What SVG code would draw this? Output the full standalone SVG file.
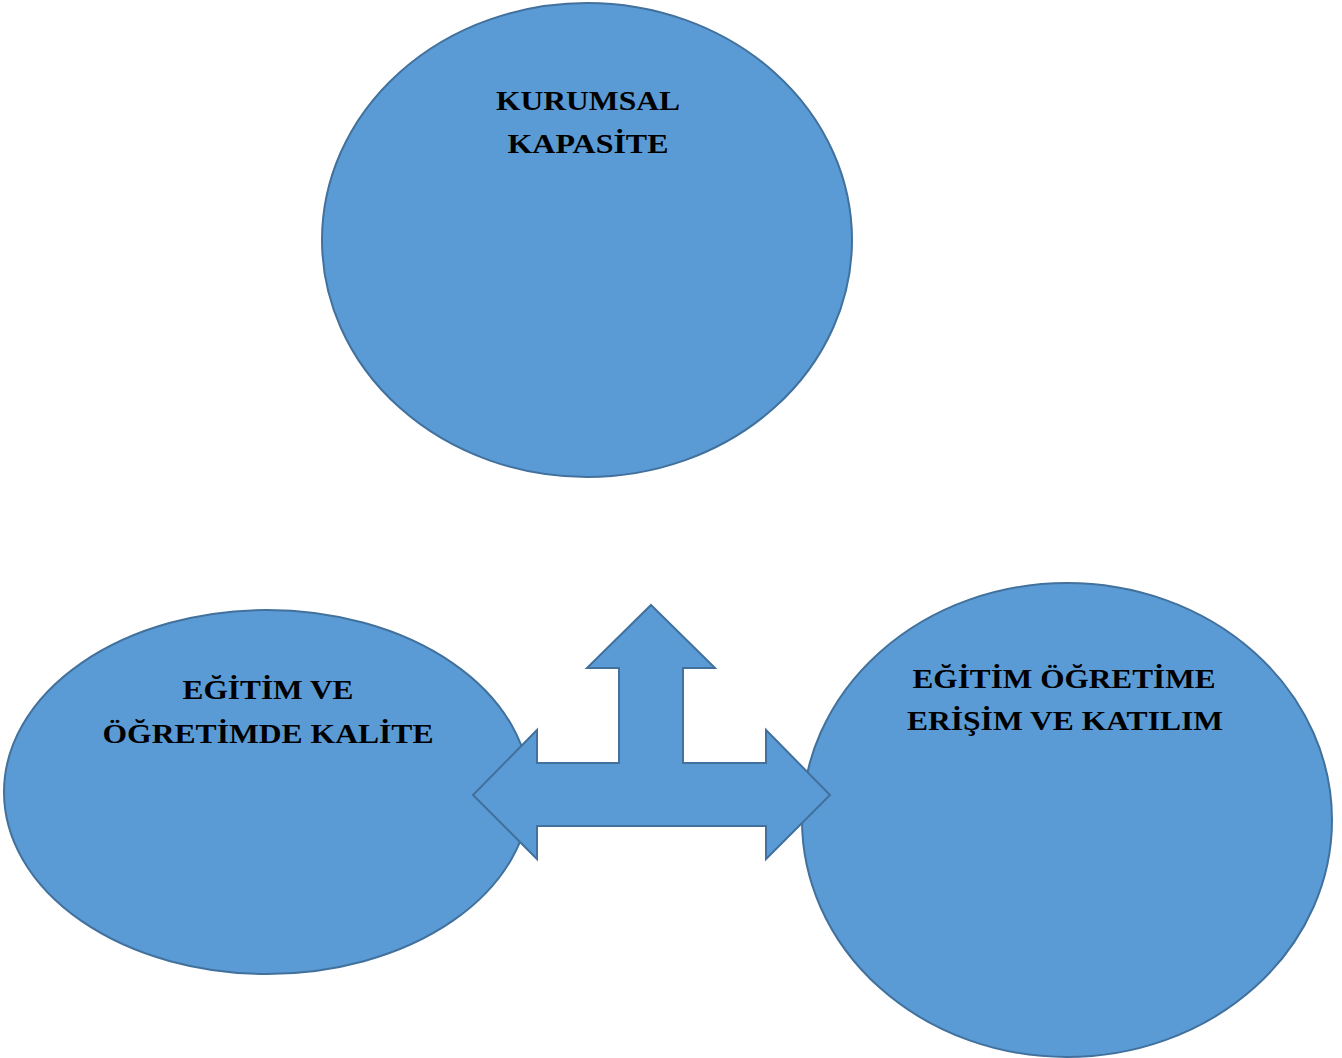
<svg xmlns="http://www.w3.org/2000/svg" width="1342" height="1058" viewBox="0 0 1342 1058">
<style>
.n{fill:#5B9BD5;stroke:#41719C;stroke-width:2}
.t{font-family:"Liberation Serif","Times New Roman",serif;font-weight:bold;font-size:28px;fill:#000;text-anchor:middle}
</style>
<rect width="1342" height="1058" fill="#fff"/>
<g id="node-kurumsal">
<ellipse class="n" cx="587" cy="240" rx="265" ry="237"/>
<text class="t" x="588" y="110" textLength="184" lengthAdjust="spacingAndGlyphs">KURUMSAL</text>
<text class="t" x="588" y="153" textLength="161" lengthAdjust="spacingAndGlyphs">KAPASİTE</text>
</g>
<g id="node-kalite">
<ellipse class="n" cx="267" cy="792" rx="263" ry="182"/>
<text class="t" x="268" y="699" textLength="171" lengthAdjust="spacingAndGlyphs">EĞİTİM VE</text>
<text class="t" x="268" y="743" textLength="331" lengthAdjust="spacingAndGlyphs">ÖĞRETİMDE KALİTE</text>
</g>
<g id="node-erisim">
<ellipse class="n" cx="1067" cy="820" rx="265" ry="237"/>
<text class="t" x="1064" y="688" textLength="303" lengthAdjust="spacingAndGlyphs">EĞİTİM ÖĞRETİME</text>
<text class="t" x="1065" y="730" textLength="316" lengthAdjust="spacingAndGlyphs">ERİŞİM VE KATILIM</text>
</g>
<g id="connectors">
<polygon class="n" points="651,605 715,668 683,668 683,763 766,763 766,730 830,795 766,859 766,826 537,826 537,859 473,795 537,730 537,763 619,763 619,668 587,668"/>
</g>
</svg>
